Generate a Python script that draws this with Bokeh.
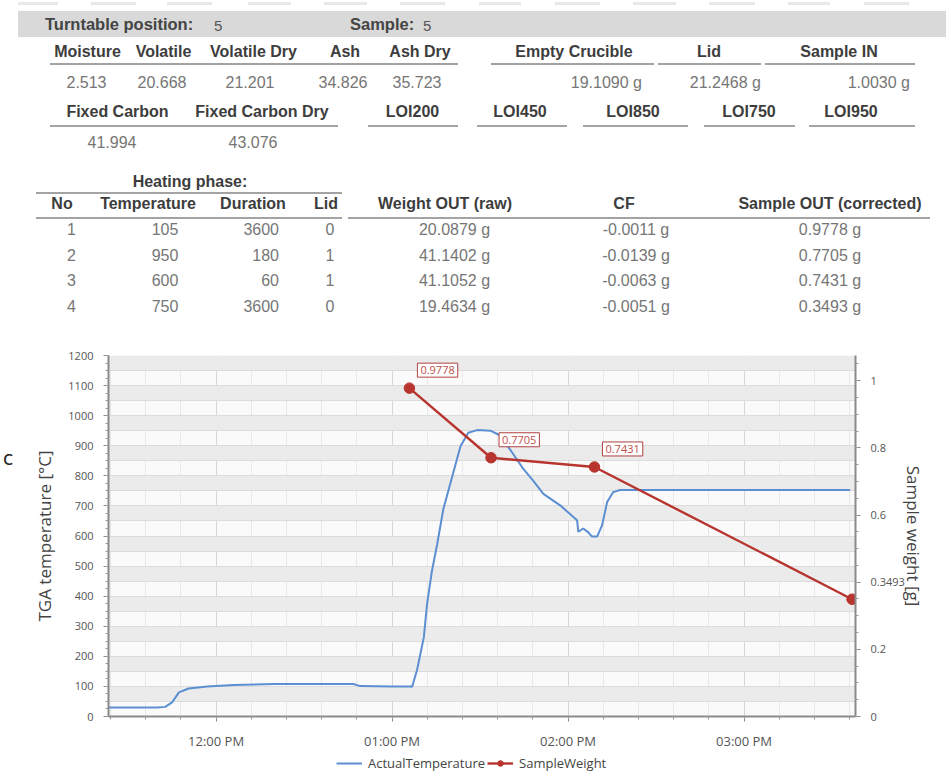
import pandas as pd
from bokeh.plotting import figure
from bokeh.models import (Range1d, LinearAxis, FixedTicker, DatetimeTickFormatter,
                          Legend, LegendItem, Label, Div)
from bokeh.layouts import column
from bokeh.embed import file_html
from bokeh.resources import INLINE

# ---------------- data ----------------
turntable_position = 5
sample_no = 5
summary_headers = ["Moisture", "Volatile", "Volatile Dry", "Ash", "Ash Dry"]
summary_values = ["2.513", "20.668", "21.201", "34.826", "35.723"]
mass_headers = ["Empty Crucible", "Lid", "Sample IN"]
mass_values = ["19.1090 g", "21.2468 g", "1.0030 g"]
carbon_headers = ["Fixed Carbon", "Fixed Carbon Dry", "LOI200", "LOI450", "LOI850", "LOI750", "LOI950"]
carbon_values = ["41.994", "43.076"]
phase_headers = ["No", "Temperature", "Duration", "Lid", "Weight OUT (raw)", "CF", "Sample OUT (corrected)"]
phase_no = [1, 2, 3, 4]
phase_temperature = [105, 950, 600, 750]
phase_duration = [3600, 180, 60, 3600]
phase_lid = [0, 1, 1, 0]
weight_out_raw = [20.0879, 41.1402, 41.1052, 19.4634]
correction_factor = [-0.0011, -0.0139, -0.0063, -0.0051]
sample_weight = [0.9778, 0.7705, 0.7431, 0.3493]
weight_times = ["13:05:55", "13:33:45", "14:09:00", "15:36:50"]

temp_times = ["11:23:20", "11:40:00", "11:42:40", "11:45:00", "11:47:20", "11:50:40", "11:57:00",
              "12:06:00", "12:20:00", "12:46:50", "12:49:10", "13:00:00", "13:06:10", "13:06:50",
              "13:08:30", "13:10:50", "13:11:55", "13:13:35", "13:15:20", "13:17:30", "13:20:55",
              "13:23:20", "13:26:00", "13:29:00", "13:33:30", "13:36:55", "13:41:25", "13:44:50",
              "13:48:10", "13:51:35", "13:57:25", "14:03:05", "14:03:30", "14:05:10", "14:06:55",
              "14:08:10", "14:09:55", "14:11:35", "14:13:20", "14:15:25", "14:17:40", "15:36:10"]
temp_values = [30, 30, 32, 47, 80, 93, 100,
               105, 108, 108, 101, 100, 100, 99,
               154, 263, 372, 483, 570, 690, 812,
               898, 943, 952, 950, 934, 871, 822,
               783, 740, 701, 652, 614, 625, 612,
               598, 598, 635, 713, 746, 753, 753]

temp_axis_ticks = list(range(0, 1201, 100))
weight_axis_ticks = [0, 0.2, 0.4, 0.6, 0.8, 1.0]
hour_ticks = ["12:00", "13:00", "14:00", "15:00"]
series_names = ["ActualTemperature", "SampleWeight"]
stray_char = "c"          # cut-off character at the left edge of the screenshot
stray_char_level = 860    # its height, on the temperature scale
DAY = "2024-01-01 "


def to_dt(times):
    return pd.to_datetime([DAY + t for t in times])


def ms(ts):
    return ts.value // 10**6


# ---------------- top: the result tables (HTML text) ----------------
HDR = "#3d3d3d"
VAL = "#767676"
parts = []


def span(x, y, text, size=16, bold=False, color=HDR, align="center"):
    tx = {"center": "-50%", "left": "0%", "right": "-100%"}[align]
    parts.append(
        f'<span style="position:absolute;left:{x}px;top:{y}px;transform:translate({tx},-50%);'
        f'white-space:nowrap;line-height:1;font-size:{size}px;'
        f'font-weight:{"bold" if bold else "normal"};color:{color};">{text}</span>')


def hline(x0, x1, y, color="#a3a3a3", h=2):
    parts.append(f'<div style="position:absolute;left:{x0}px;top:{y - h / 2}px;width:{x1 - x0}px;'
                 f'height:{h}px;background:{color};"></div>')


for a, b in [(18, 58), (91, 136), (167, 212), (248, 291), (324, 367), (400, 445), (479, 521),
             (555, 600), (633, 676), (709, 755), (788, 830), (864, 909)]:
    hline(a, b, 3, "#e8e8e8", 3)

parts.append('<div style="position:absolute;left:18px;top:11px;width:928px;height:26px;background:#d9d9d9;"></div>')
span(45, 24, "Turntable position:", 16.5, True, "#444", "left")
span(214, 25, str(turntable_position), 15, False, "#555", "left")
span(350, 24, "Sample:", 16.5, True, "#444", "left")
span(423, 25, str(sample_no), 15, False, "#555", "left")

for x, t in zip([87.5, 163.5, 253.5, 345, 420], summary_headers):
    span(x, 52, t, bold=True)
for x, t in zip([574, 709, 839], mass_headers):
    span(x, 52, t, bold=True)
for a, b in [(50, 458), (491, 654), (658, 761), (765, 915)]:
    hline(a, b, 63.5)
for x, t in zip([86.5, 162, 250, 343, 417], summary_values):
    span(x, 82.5, t, color=VAL)
for x, t in zip([642, 761, 910], mass_values):
    span(x, 82.5, t, color=VAL, align="right")

for x, t in zip([117.5, 262, 412.5, 520, 633, 749, 851], carbon_headers):
    span(x, 112, t, bold=True)
for a, b in [(50, 338), (368, 458), (477, 567), (583, 688), (704, 795), (809, 915)]:
    hline(a, b, 126)
for x, t in zip([112, 253], carbon_values):
    span(x, 143, t, color=VAL)

span(190, 182, "Heating phase:", bold=True)
hline(36, 342, 192.5)
for x, t in zip([62, 148, 253, 326, 445, 624, 830], phase_headers):
    span(x, 204, t, bold=True)
hline(36, 342, 217.5)
hline(348, 930, 217.5)
row_y = [229.5, 255.5, 281, 306.5]
for i, y in enumerate(row_y):
    span(71.5, y, str(phase_no[i]), color=VAL)
    span(165, y, str(phase_temperature[i]), color=VAL)
    span(279, y, str(phase_duration[i]), color=VAL, align="right")
    span(330, y, str(phase_lid[i]), color=VAL)
    span(454.5, y, f"{weight_out_raw[i]:.4f} g", color=VAL)
    span(636, y, f"{correction_factor[i]:.4f} g", color=VAL)
    span(830, y, f"{sample_weight[i]:.4f} g", color=VAL)

html = ('<div style="position:relative;width:946px;height:340px;overflow:hidden;'
        'font-family:\'Liberation Sans\',Arial,sans-serif;">' + "".join(parts) + '</div>')
top = Div(text=html, width=946, height=340, margin=0)

# ---------------- chart ----------------
CF = "Open Sans"
RED = "#b8352f"
BLUE = "#5b8fd2"
t_temp = to_dt(temp_times)
t_w = to_dt(weight_times)

p = figure(width=946, height=412, x_axis_type="datetime", output_backend="svg",
           toolbar_location=None,
           x_range=Range1d(pd.Timestamp(DAY + "11:23:20"), pd.Timestamp(DAY + "15:38:00")),
           y_range=Range1d(0, 1200),
           min_border_left=108, min_border_right=91, min_border_top=15, min_border_bottom=32,
           background_fill_color="#fafafa", outline_line_color=None)
p.extra_y_ranges = {"w": Range1d(0, 1.075)}

hours = [ms(pd.Timestamp(DAY + h)) for h in hour_ticks]
minors = [ms(t) for t in pd.date_range(DAY + "11:24", DAY + "15:36", freq="12min")]
p.xaxis.ticker = FixedTicker(ticks=hours, minor_ticks=minors)
p.xaxis.formatter = DatetimeTickFormatter(hours="%I:%M %p", hourmin="%I:%M %p",
                                          minutes="%I:%M %p", minsec="%I:%M %p")
p.yaxis.ticker = FixedTicker(ticks=temp_axis_ticks, minor_ticks=list(range(0, 1201, 25)))
p.yaxis.axis_label = "TGA temperature [°C]"

# the last weight's call-out sits where the 0.4 tick label would be, so it replaces it
raxis = LinearAxis(y_range_name="w", axis_label="Sample weight [g]",
                   ticker=FixedTicker(ticks=weight_axis_ticks,
                                      minor_ticks=[i * 0.05 for i in range(22)]),
                   major_label_overrides={0.4: f"{sample_weight[-1]:.4f}"})
p.add_layout(raxis, "right")

for ax in p.axis:
    ax.axis_line_color = "#8a8a8a"
    ax.axis_line_width = 2
    ax.major_tick_line_color = "#8a8a8a"
    ax.minor_tick_line_color = "#9a9a9a"
    ax.major_tick_out = 5
    ax.major_tick_in = 0
    ax.minor_tick_out = 3
    ax.minor_tick_in = 0
    ax.major_label_text_font = CF
    ax.major_label_text_font_size = "11px"
    ax.major_label_text_color = "#555555"
    ax.major_label_standoff = 10
    ax.axis_label_text_font = CF
    ax.axis_label_text_font_size = "17px"
    ax.axis_label_text_font_style = "normal"
    ax.axis_label_text_color = "#444444"
p.xaxis.major_label_text_font_size = "13px"
p.yaxis.axis_label_standoff = 9
raxis.axis_label_standoff = -6

stray = LinearAxis(ticker=FixedTicker(ticks=[stray_char_level]),
                   major_label_overrides={stray_char_level: stray_char},
                   axis_line_color=None, major_tick_line_color=None, minor_tick_line_color=None,
                   major_tick_out=0, major_tick_in=0, minor_tick_out=0, minor_tick_in=0,
                   major_label_standoff=17, major_label_text_font="DejaVu Sans",
                   major_label_text_font_size="19px", major_label_text_color="#222222")
p.add_layout(stray, "left")

p.ygrid.ticker = FixedTicker(ticks=list(range(0, 1201, 50)))
p.ygrid.grid_line_color = "#dcdcdc"
p.ygrid.band_fill_color = "#ebebeb"
p.ygrid.band_fill_alpha = 1
p.xgrid.grid_line_color = "#d6d6d6"
p.xgrid.minor_grid_line_color = "#e8e8e8"

r_temp = p.line(t_temp, temp_values, line_color=BLUE, line_width=2)
r_wl = p.line(t_w, sample_weight, line_color=RED, line_width=2.4, y_range_name="w")
r_wp = p.scatter(t_w, sample_weight, size=10.5, color=RED, y_range_name="w")

for t, w in list(zip(t_w, sample_weight))[:-1]:
    p.add_layout(Label(x=t, y=w, y_range_name="w", text=f"{w:.4f}", x_offset=8, y_offset=11,
                       text_font=CF, text_font_size="11px", text_color="#c0504a",
                       background_fill_color="white", border_line_color="#b04040",
                       border_line_width=1, padding=3))

# ---------------- legend strip under the chart ----------------
# (same series drawn again, but outside this strip's visible window, so only the legend shows)
lf = figure(width=946, height=26, output_backend="svg", toolbar_location=None,
            x_range=Range1d(0, 1), y_range=Range1d(0, 1), x_axis_location=None,
            y_axis_location=None, min_border_left=108, min_border_right=91,
            min_border_top=0, min_border_bottom=0, outline_line_color=None)
lf.grid.visible = False
k_temp = lf.line(t_temp, temp_values, line_color=BLUE, line_width=2)
k_wl = lf.line(t_w, sample_weight, line_color=RED, line_width=2.4)
k_wp = lf.scatter(t_w, sample_weight, size=10.5, color=RED)
legend = Legend(items=[LegendItem(label=series_names[0], renderers=[k_temp]),
                       LegendItem(label=series_names[1], renderers=[k_wl, k_wp])],
                orientation="horizontal", location=(228, 6), padding=0, spacing=2,
                glyph_width=26, glyph_height=14, label_height=14, label_standoff=6,
                label_text_font=CF, label_text_font_size="13px", label_text_color="#444",
                background_fill_alpha=0, border_line_alpha=0, margin=0)
lf.add_layout(legend)

page = column(top, p, lf)
open("out.html", "w").write(file_html(page, INLINE))
